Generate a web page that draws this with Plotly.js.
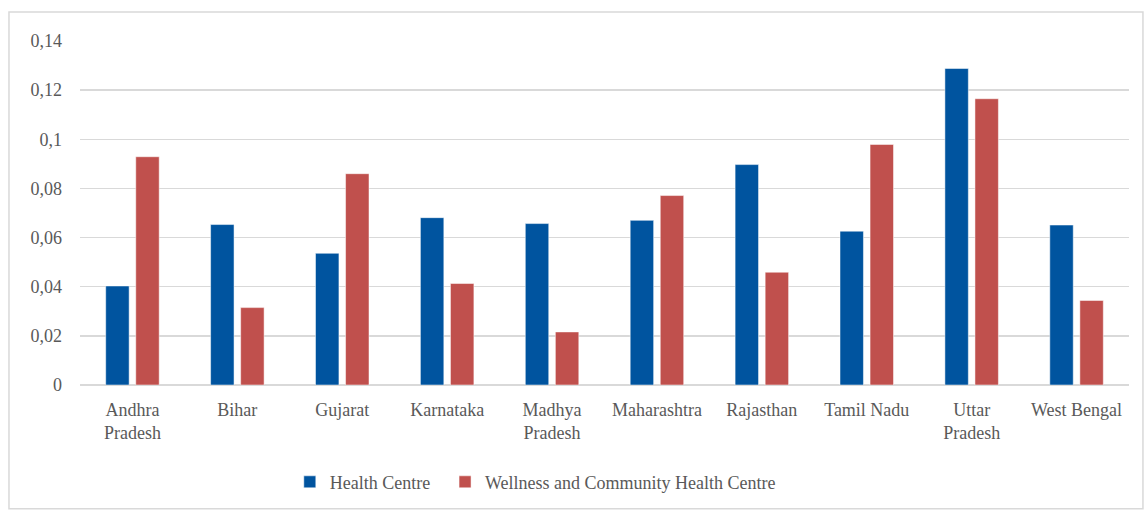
<!DOCTYPE html>
<html>
<head>
<meta charset="utf-8">
<script src="https://cdn.plot.ly/plotly-3.0.1.min.js"></script>
<style>html,body{margin:0;padding:0;background:#fff;}#chart{width:1144px;height:511px;}</style>
</head>
<body>
<div id="chart"></div>
<script>
const categories = ["Andhra<br>Pradesh","Bihar","Gujarat","Karnataka","Madhya<br>Pradesh","Maharashtra","Rajasthan","Tamil Nadu","Uttar<br>Pradesh","West Bengal"];
const healthCentre = [0.0403,0.0653,0.0536,0.0681,0.0657,0.0670,0.0897,0.0626,0.1288,0.0651];
const wellnessCHC = [0.0929,0.0315,0.0860,0.0413,0.0216,0.0771,0.0459,0.0979,0.1165,0.0344];
const yTickVals = [0,0.02,0.04,0.06,0.08,0.1,0.12,0.14];
const yTickText = ["0","0,02","0,04","0,06","0,08","0,1","0,12","0,14"];

const font = {family:"Liberation Serif", size:18, color:"#595959"};

const traces = [
  {type:"bar", name:"Health Centre", x:categories, y:healthCentre, legend:"legend",
   marker:{color:"#00549F", line:{color:"#ffffff", width:0.5}}},
  {type:"bar", name:"Wellness and Community Health Centre", x:categories, y:wellnessCHC, legend:"legend2",
   marker:{color:"#C0504D", line:{color:"#ffffff", width:0.5}}}
];

const layout = {
  width:1144, height:511,
  margin:{l:80, r:15, t:41, b:125},
  paper_bgcolor:"#ffffff", plot_bgcolor:"#ffffff",
  font:font,
  barmode:"group", bargap:0.427, bargroupgap:0.22,
  showlegend:true,
  legend:{orientation:"h", x:0.2, xanchor:"left", y:-0.225, yanchor:"top", font:font, itemclick:false},
  legend2:{orientation:"h", x:0.348, xanchor:"left", y:-0.225, yanchor:"top", font:font, itemclick:false},
  xaxis:{showgrid:false, showline:false, zeroline:false, ticks:"", tickfont:font, tickangle:0, automargin:false, ticklabelstandoff:12},
  yaxis:{range:[0,0.14], tickvals:yTickVals, ticktext:yTickText, showgrid:true, gridcolor:"#d9d9d9", gridwidth:1.5,
         zeroline:true, zerolinecolor:"#d9d9d9", zerolinewidth:1.5, showline:false, ticks:"", tickfont:font, ticklabelstandoff:17, automargin:false},
  shapes:[{type:"rect", xref:"paper", yref:"paper", x0:-0.0677, x1:1.0133, y0:-0.36, y1:1.084,
           line:{color:"#d9d9d9", width:1.5}, fillcolor:"rgba(0,0,0,0)", layer:"below"}]
};

Plotly.newPlot("chart", traces, layout, {displayModeBar:false, staticPlot:true});
</script>
</body>
</html>
